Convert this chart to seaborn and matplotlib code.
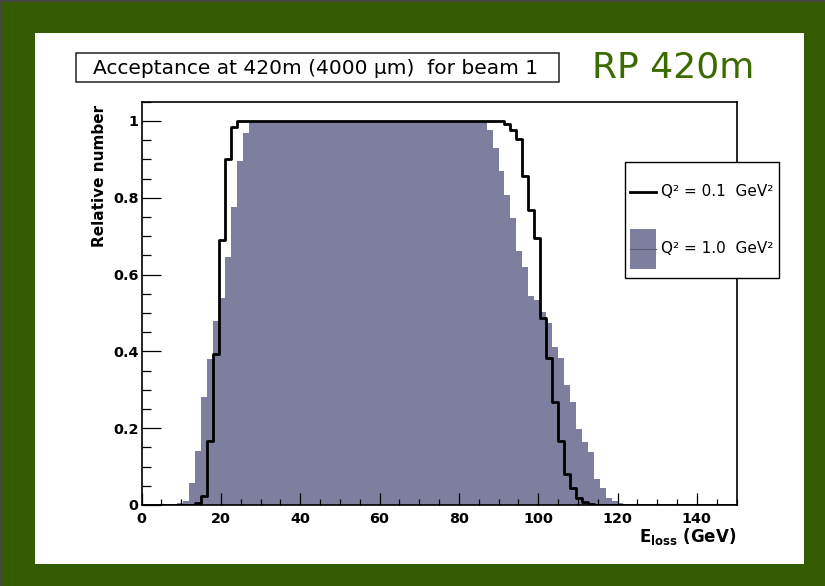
import numpy as np
import pandas as pd
import matplotlib
matplotlib.use("Agg")
import matplotlib.pyplot as plt
import seaborn as sns
from matplotlib.lines import Line2D
from matplotlib.patches import Patch, Rectangle
from matplotlib.legend_handler import HandlerPatch, HandlerLine2D
from matplotlib.ticker import MultipleLocator, FixedLocator, FixedFormatter

# ---------------- data ----------------
BIN_WIDTH = 1.5
E_MIN, E_MAX = 0.0, 150.0
N_BINS = 100
energy_centers = np.arange(E_MIN + BIN_WIDTH / 2, E_MAX, BIN_WIDTH)   # 100 bins

# Q^2 = 0.1 GeV^2 (black line)
acc_q2_01 = [
    0, 0, 0, 0, 0, 0, 0, 0, 0,
    0.004, 0.023, 0.167, 0.393, 0.691, 0.902, 0.985,
    1.0, 1.0, 1.0, 1.0, 1.0, 1.0, 1.0, 1.0, 1.0, 1.0,
    1.0, 1.0, 1.0, 1.0, 1.0, 1.0, 1.0, 1.0, 1.0, 1.0,
    1.0, 1.0, 1.0, 1.0, 1.0, 1.0, 1.0, 1.0, 1.0, 1.0,
    1.0, 1.0, 1.0, 1.0, 1.0, 1.0, 1.0, 1.0, 1.0, 1.0,
    1.0, 1.0, 1.0, 1.0, 1.0,
    0.993, 0.976, 0.954, 0.856, 0.769, 0.696, 0.488, 0.382, 0.269, 0.167,
    0.082, 0.043, 0.017, 0.009, 0.003,
    0, 0, 0, 0, 0, 0, 0, 0, 0, 0, 0, 0,
    0, 0, 0, 0, 0, 0, 0, 0, 0, 0, 0, 0,
]

# Q^2 = 1.0 GeV^2 (filled)
acc_q2_10 = [
    0, 0, 0, 0, 0, 0,
    0.005, 0.01, 0.056, 0.14, 0.28, 0.38, 0.48, 0.54, 0.646, 0.776, 0.895, 0.969,
    1.0, 1.0, 1.0, 1.0, 1.0, 1.0, 1.0, 1.0, 1.0, 1.0,
    1.0, 1.0, 1.0, 1.0, 1.0, 1.0, 1.0, 1.0, 1.0, 1.0,
    1.0, 1.0, 1.0, 1.0, 1.0, 1.0, 1.0, 1.0, 1.0, 1.0,
    1.0, 1.0, 1.0, 1.0, 1.0, 1.0, 1.0, 1.0, 1.0, 1.0,
    0.976, 0.93, 0.87, 0.808, 0.746, 0.662, 0.62, 0.545, 0.535, 0.502,
    0.473, 0.412, 0.384, 0.312, 0.269, 0.198, 0.165, 0.137, 0.067, 0.043,
    0.019, 0.01, 0.004,
    0, 0, 0, 0, 0, 0, 0, 0, 0, 0,
    0, 0, 0, 0, 0, 0, 0, 0, 0,
]

x_ticks = [0, 20, 40, 60, 80, 100, 120, 140]
y_ticks = [0, 0.2, 0.4, 0.6, 0.8, 1.0]
y_tick_labels = ["0", "0.2", "0.4", "0.6", "0.8", "1"]

title_text = "Acceptance at 420m (4000 \u03bcm)  for beam 1"
corner_text = "RP 420m"
legend_labels = ["Q\u00b2 = 0.1  GeV\u00b2", "Q\u00b2 = 1.0  GeV\u00b2"]

df = pd.DataFrame({"energy": energy_centers,
                   "q2_01": np.asarray(acc_q2_01, dtype=float),
                   "q2_10": np.asarray(acc_q2_10, dtype=float)})

# ---------------- style ----------------
GREEN = "#335c00"
TEXT_GREEN = "#3b6b00"
FILL = "#7e7e9e"
W, H = 825, 586

plt.rcParams["font.family"] = ["DejaVu Sans"]
plt.rcParams["mathtext.fontset"] = "dejavusans"

fig = plt.figure(figsize=(W / 100, H / 100), dpi=100, facecolor=GREEN)

def px_box(x0, y0, x1, y1):
    return (x0 / W, 1 - y1 / H, (x1 - x0) / W, (y1 - y0) / H)

# white panel
bx = px_box(35, 33, 804, 564)
fig.patches.append(Rectangle((bx[0], bx[1]), bx[2], bx[3], transform=fig.transFigure,
                             facecolor="white", edgecolor="none", zorder=-2))
# thin dark edge top/left
fig.add_artist(Line2D([0, 1], [1 - 1 / H, 1 - 1 / H], transform=fig.transFigure, color="#444444", lw=1.5))
fig.add_artist(Line2D([1 / W, 1 / W], [0, 1], transform=fig.transFigure, color="#444444", lw=1.5))

ax = fig.add_axes(px_box(141.5, 101.7, 736.5, 505))
ax.set_zorder(5)
ax.set_facecolor("white")

sns.histplot(data=df, x="energy", weights="q2_10", bins=N_BINS, binrange=(E_MIN, E_MAX),
             element="step", fill=True, color=FILL, alpha=1.0, linewidth=0, ax=ax)
sns.histplot(data=df, x="energy", weights="q2_01", bins=N_BINS, binrange=(E_MIN, E_MAX),
             element="step", fill=False, color="black", linewidth=2.0, ax=ax)

ax.set_xlim(E_MIN, E_MAX)
ax.set_ylim(0, 1.05)

ax.xaxis.set_major_locator(FixedLocator(x_ticks))
ax.xaxis.set_minor_locator(MultipleLocator(5))
ax.yaxis.set_major_locator(FixedLocator(y_ticks))
ax.yaxis.set_major_formatter(FixedFormatter(y_tick_labels))
ax.yaxis.set_minor_locator(MultipleLocator(0.05))

ax.tick_params(axis="x", which="major", direction="in", length=8.3, width=0.9, pad=5,
               labelsize=10.4, top=False)
ax.tick_params(axis="x", which="minor", direction="in", length=4.3, width=0.9, top=False)
ax.tick_params(axis="y", which="major", direction="in", length=13.7, width=0.9, pad=2,
               labelsize=10.4, right=False)
ax.tick_params(axis="y", which="minor", direction="in", length=6.8, width=0.9, right=False)
for lab in ax.get_xticklabels() + ax.get_yticklabels():
    lab.set_fontweight("bold")

for s in ax.spines.values():
    s.set_color("black")
    s.set_linewidth(1.2)

ax.set_xlabel(r"E$_{\mathregular{loss}}$ (GeV)", fontsize=12, fontweight="bold", loc="right")
ax.xaxis.set_label_coords(1.0, -0.052)
ax.set_ylabel("Relative number", fontsize=11, fontweight="bold", loc="top")
ax.yaxis.set_label_coords(-0.0585, 0.993)

# legend
LEG_FS = 11.0                      # pt
PT_PER_PX = 72.0 / 100.0
SWATCH_H = 40 * PT_PER_PX          # filled swatch height (pt)

def tall_swatch(legend, orig_handle, xdescent, ydescent, width, height, fontsize):
    center = height / 2.0 - ydescent
    return Rectangle(xy=(-xdescent, center - SWATCH_H / 2.0), width=width, height=SWATCH_H)

class CenteredLine(HandlerLine2D):
    def create_artists(self, legend, orig_handle, xdescent, ydescent, width, height,
                       fontsize, trans):
        artists = super().create_artists(legend, orig_handle, xdescent, ydescent,
                                         width, height, fontsize, trans)
        center = height / 2.0 - ydescent
        for a in artists:
            a.set_ydata(np.full_like(np.asarray(a.get_xdata(), dtype=float), center))
        return artists

handles = [Line2D([], [], color="black", lw=2.0),
           (Patch(facecolor=FILL, edgecolor="none"), Line2D([], [], color="#5a5a78", lw=0.8))]
leg = ax.legend(handles, legend_labels, loc="upper left",
                bbox_to_anchor=(625 / W, 1 - 162.3 / H), bbox_transform=fig.transFigure,
                borderaxespad=0, fontsize=LEG_FS, handlelength=1.70, handleheight=4.46,
                handletextpad=0.33, labelspacing=0.58, borderpad=0.353,
                frameon=True, fancybox=False, framealpha=1, edgecolor="black",
                handler_map={Patch: HandlerPatch(patch_func=tall_swatch),
                             Line2D: CenteredLine()})
leg.get_frame().set_linewidth(1.0)

# title box
tb = px_box(75.7, 52.7, 559, 81.7)
fig.patches.append(Rectangle((tb[0], tb[1]), tb[2], tb[3], transform=fig.transFigure,
                             facecolor="white", edgecolor="#222222", lw=1.1, zorder=1))
fig.text(93.3 / W, 1 - 74 / H, title_text, fontsize=14.5, ha="left", va="baseline", zorder=2)

# corner label
fig.text(592 / W, 1 - 78 / H, corner_text, fontsize=26, color=TEXT_GREEN,
         ha="left", va="baseline")

fig.savefig("out.png", dpi=100, facecolor=GREEN)
